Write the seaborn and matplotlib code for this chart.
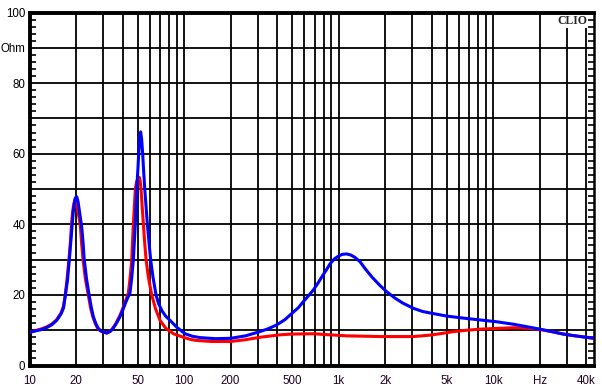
import numpy as np
import pandas as pd
import matplotlib
matplotlib.use("Agg")
import matplotlib.pyplot as plt
import seaborn as sns
from matplotlib.ticker import FixedLocator, NullFormatter

# ---- data ----
blue_f = [10, 12, 13, 14, 15, 16, 16.6, 17.0, 17.6, 18.1, 18.5, 18.9, 19.2, 19.5, 19.8, 20.2,
          20.6, 21.0, 21.4, 21.8, 22.2, 22.6, 23.4, 24.3, 25.1, 25.9, 26.9, 27.9, 29, 30, 31.6,
          33.2, 34.5, 36, 37.2, 38.5, 40, 41.6, 43, 44.7, 45.9, 47.0, 47.7, 48.4, 48.9, 49.4,
          50.2, 50.9, 51.6, 52.4, 53.2, 54.0, 54.8, 55.7, 56.8, 57.9, 59.3, 60.8, 63, 65.9,
          68.5, 72, 76, 81.1, 90, 101.5, 113, 127, 160, 200, 250, 310, 350, 398, 450, 500,
          550, 592, 640, 687, 740, 790, 840, 881, 940, 1000, 1060, 1130, 1200, 1280, 1377,
          1500, 1650, 1850, 2049, 2300, 2600, 3050, 3500, 4000, 5013, 6500, 8245, 10500,
          13500, 16500, 20100, 24000, 28500, 34000, 40000, 45000]
blue_z = [9.4, 10.2, 10.8, 11.6, 12.8, 14.6, 16.3, 19.5, 24, 30, 35, 40, 43.5, 46, 47.5, 47.8,
          46.5, 44, 41.5, 39, 35, 30, 24.5, 20, 16.5, 13.8, 11.8, 10.5, 9.8, 9.5, 9.2,
          9.6, 10.3, 11.5, 12.6, 13.8, 15.5, 17.5, 19, 20.5, 25, 30, 35, 40, 45, 50,
          55, 60, 64, 66.2, 64, 60, 55, 50, 45, 40, 35, 30, 25, 20,
          17.5, 15.5, 14, 12.8, 10.8, 9.0, 8.3, 7.9, 7.6, 7.7, 8.4, 9.6, 10.4, 11.5, 13, 14.8,
          16.4, 18.1, 19.8, 21.4, 23.5, 25.5, 27.3, 28.8, 30.2, 31, 31.5, 31.6, 31.3, 30.6, 29.4,
          27.2, 25, 22.7, 20.9, 19.2, 17.7, 16.2, 15.3, 14.8, 14.0, 13.4, 12.9, 12.4,
          11.7, 11.0, 10.3, 9.6, 8.9, 8.4, 8.0, 7.7]

red_f = [10, 12, 13, 14, 15, 16, 16.6, 17.0, 17.5, 18.0, 18.4, 18.7, 19.0, 19.3, 19.7, 20.0,
         20.3, 20.8, 21.3, 21.7, 22.2, 23.0, 24.0, 24.8, 25.6, 26.6, 27.6, 28.8, 30, 31.6,
         33.2, 34.5, 36, 37.2, 38.5, 40, 41.6, 43.6, 44.8, 45.9, 46.4, 47.0, 47.7, 48.4, 49.3,
         50.5, 51.4, 52.0, 52.7, 53.6, 54.6, 55.6, 56.8, 58.8, 61.8, 65.5, 69.9, 76, 85.3, 99,
         110, 120, 150, 200, 250, 310, 418, 500, 687, 798, 1130, 1858, 3050, 3908, 4700, 5537,
         6800, 8245, 10500, 13500, 16000, 18200, 20100, 24000, 28500, 34000, 40000, 45000]
red_z = [9.4, 10.4, 11.0, 11.8, 13.0, 14.9, 16.8, 19.5, 24.5, 30, 35, 40, 43.5, 45.5, 47, 46.5,
         45, 42.5, 40, 35, 30, 24.5, 20, 16.5, 14, 12, 10.5, 9.8, 9.5, 9.2,
         9.7, 10.5, 11.7, 12.9, 14.2, 16, 18, 20.5, 25, 30, 35, 40, 45, 50, 52,
         53, 53.3, 52.3, 50, 45, 40, 35, 30, 25, 20, 16, 12.8, 10.6, 9.0, 8.0,
         7.4, 7.1, 6.8, 6.8, 7.3, 8.0, 8.7, 8.9, 9.0, 8.8, 8.4, 8.2, 8.2, 8.6, 9.1, 9.6,
         10.0, 10.3, 10.5, 10.7, 10.6, 10.4, 10.2, 9.6, 8.9, 8.4, 8.0, 7.7]

x_label_pos = [10, 20, 50, 100, 200, 500, 1000, 2000, 5000, 10000, 20000, 40000]
x_label_txt = ["10", "20", "50", "100", "200", "500", "1k", "2k", "5k", "10k", "Hz", "40k"]
y_label_pos = [0, 10, 20, 30, 40, 50, 60, 70, 80, 90, 100]
y_label_txt = ["0", "", "20", "", "40", "", "60", "", "80", "Ohm", "100"]

df = pd.concat([
    pd.DataFrame({"f": red_f, "Z": red_z, "s": "red"}),
    pd.DataFrame({"f": blue_f, "Z": blue_z, "s": "blue"}),
], ignore_index=True)

sns.set_style("white")
plt.rcParams["font.family"] = ["Liberation Sans", "DejaVu Sans"]

W, H = 602, 392
fig = plt.figure(figsize=(W / 100, H / 100), dpi=100)
ax = fig.add_axes([29.5 / W, 1 - 365.5 / H, (594 - 29.5) / W, (365.5 - 12.5) / H])

sns.lineplot(data=df, x="f", y="Z", hue="s", hue_order=["red", "blue"],
             palette={"red": "#ff0000", "blue": "#0000ff"}, legend=False,
             linewidth=2.2, ax=ax, estimator=None, sort=True, zorder=5)

ax.set_xscale("log")
ax.set_xlim(10, 45000)
ax.set_ylim(0, 100)

# vertical grid positions
grid_x = []
for dec in [10, 100, 1000]:
    grid_x += [dec * k for k in range(1, 10)]
grid_x += [10000, 20000, 30000, 40000]
minor_x = [g for g in grid_x if g not in x_label_pos]

ax.xaxis.set_major_locator(FixedLocator(x_label_pos))
ax.set_xticklabels(x_label_txt)
ax.xaxis.set_minor_locator(FixedLocator(minor_x))
ax.xaxis.set_minor_formatter(NullFormatter())

ax.yaxis.set_major_locator(FixedLocator(y_label_pos))
ax.set_yticklabels(y_label_txt)
ax.yaxis.set_minor_locator(FixedLocator(np.arange(0, 101, 2)))

ax.grid(True, which="both", axis="x", color="black", linewidth=1.3)
ax.grid(True, which="major", axis="y", color="black", linewidth=1.3)

ax.tick_params(axis="x", which="both", length=0, pad=7, labelsize=8.3, labelcolor="#200020")
ax.tick_params(axis="y", which="major", length=0, pad=3, labelsize=8.3, labelcolor="black")
ax.tick_params(axis="y", which="minor", direction="in", length=4, width=1.2,
               left=True, right=True, color="black")

for side in ["left", "bottom", "top"]:
    ax.spines[side].set_visible(True)
    ax.spines[side].set_linewidth(2.8)
    ax.spines[side].set_color("black")
ax.spines["right"].set_visible(True)
ax.spines["right"].set_linewidth(1.8)
ax.spines["right"].set_color("black")

ax.set_xlabel("")
ax.set_ylabel("")

ax.text(0.988, 0.992, "CLIO", transform=ax.transAxes, ha="right", va="top",
        fontsize=8.5, fontweight="bold", family=["Liberation Serif", "DejaVu Serif"],
        bbox=dict(facecolor="white", edgecolor="none", pad=0.5), zorder=10)

fig.savefig("out.png", dpi=100)
